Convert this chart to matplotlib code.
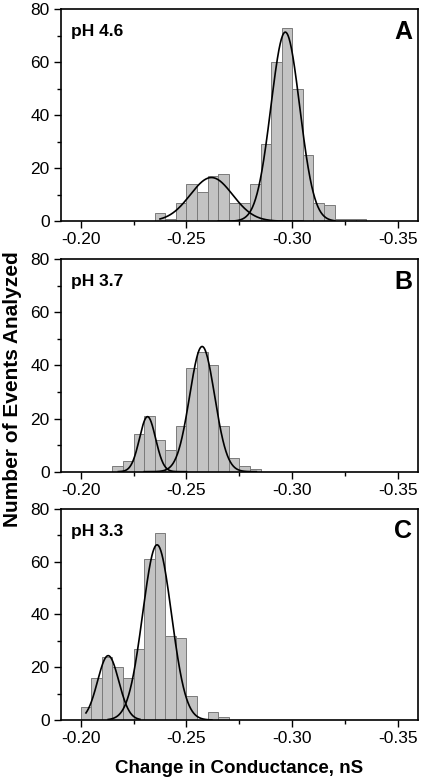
import numpy as np
import matplotlib
matplotlib.use("Agg")
from matplotlib import pyplot as plt
from matplotlib.ticker import MultipleLocator

plt.rcParams['font.family'] = ['Liberation Sans', 'DejaVu Sans']

# histogram counts, bins 0.005 nS wide (left edge = first value, going more negative)
start_a = -0.235
counts_a = [3, 1, 7, 14, 11, 17, 18, 7, 7, 14, 29, 60, 73, 50, 25, 7, 6, 1, 1, 1]
start_b = -0.215
counts_b = [2, 4, 14, 21, 12, 8, 17, 39, 45, 40, 17, 5, 2, 1]
start_c = -0.200
counts_c = [5, 16, 24, 20, 16, 27, 61, 71, 32, 31, 9, 0, 3, 1]

# gaussian fits: (center, amplitude, sigma, x from, x to)
fits_a = [(-0.2618, 16.5, 0.0100, -0.2375, -0.305), (-0.2967, 71.4, 0.0068, -0.265, -0.320)]
fits_b = [(-0.2316, 20.7, 0.0038, -0.2178, -0.250), (-0.2574, 47.1, 0.0059, -0.230, -0.283)]
fits_c = [(-0.2130, 24.4, 0.0050, -0.2025, -0.228), (-0.2361, 66.4, 0.0068, -0.213, -0.262)]

ph_labels = ["pH 4.6", "pH 3.7", "pH 3.3"]
panel_letters = ["A", "B", "C"]

fig = plt.figure(figsize=(4.22, 7.79), dpi=100)
boxes = [(0.144, 0.716, 0.846, 0.272),
         (0.144, 0.3945, 0.846, 0.273),
         (0.144, 0.0757, 0.846, 0.271)]

data = [(start_a, counts_a, fits_a), (start_b, counts_b, fits_b), (start_c, counts_c, fits_c)]
w = 0.005

for box, (start, counts, fits), ph, letter in zip(boxes, data, ph_labels, panel_letters):
    ax = fig.add_axes(box)
    lefts = start - w * np.arange(len(counts))
    ax.bar(lefts, counts, width=-w, align='edge', color='#c3c3c3',
           edgecolor='#7a7a7a', linewidth=0.7)
    for c, a, s, x0, x1 in fits:
        xs = np.linspace(x0, x1, 300)
        ax.plot(xs, a * np.exp(-0.5 * ((xs - c) / s) ** 2), color='black', lw=1.2)
    ax.set_xlim(-0.1906, -0.3593)
    ax.set_ylim(0, 80)
    ax.set_xticks([-0.20, -0.25, -0.30, -0.35])
    ax.set_xticklabels(["-0.20", "-0.25", "-0.30", "-0.35"])
    ax.set_yticks([0, 20, 40, 60, 80])
    ax.xaxis.set_minor_locator(MultipleLocator(0.025))
    ax.yaxis.set_minor_locator(MultipleLocator(10))
    ax.tick_params(which='major', direction='out', length=5, width=1, labelsize=12.5, pad=3)
    ax.tick_params(which='minor', direction='out', length=3, width=1)
    for sp in ax.spines.values():
        sp.set_linewidth(1.2)
    ax.text(0.03, 0.93, ph, transform=ax.transAxes, fontsize=12.5,
            fontweight='bold', va='top', ha='left')
    ax.text(0.985, 0.95, letter, transform=ax.transAxes, fontsize=18,
            fontweight='bold', va='top', ha='right')

fig.text(0.03, 0.5, "Number of Events Analyzed", rotation=90, fontsize=15,
         fontweight='bold', va='center', ha='center')
fig.text(0.567, 0.014, "Change in Conductance, nS", fontsize=13.5,
         fontweight='bold', va='center', ha='center')

fig.savefig("out.png", dpi=100)
